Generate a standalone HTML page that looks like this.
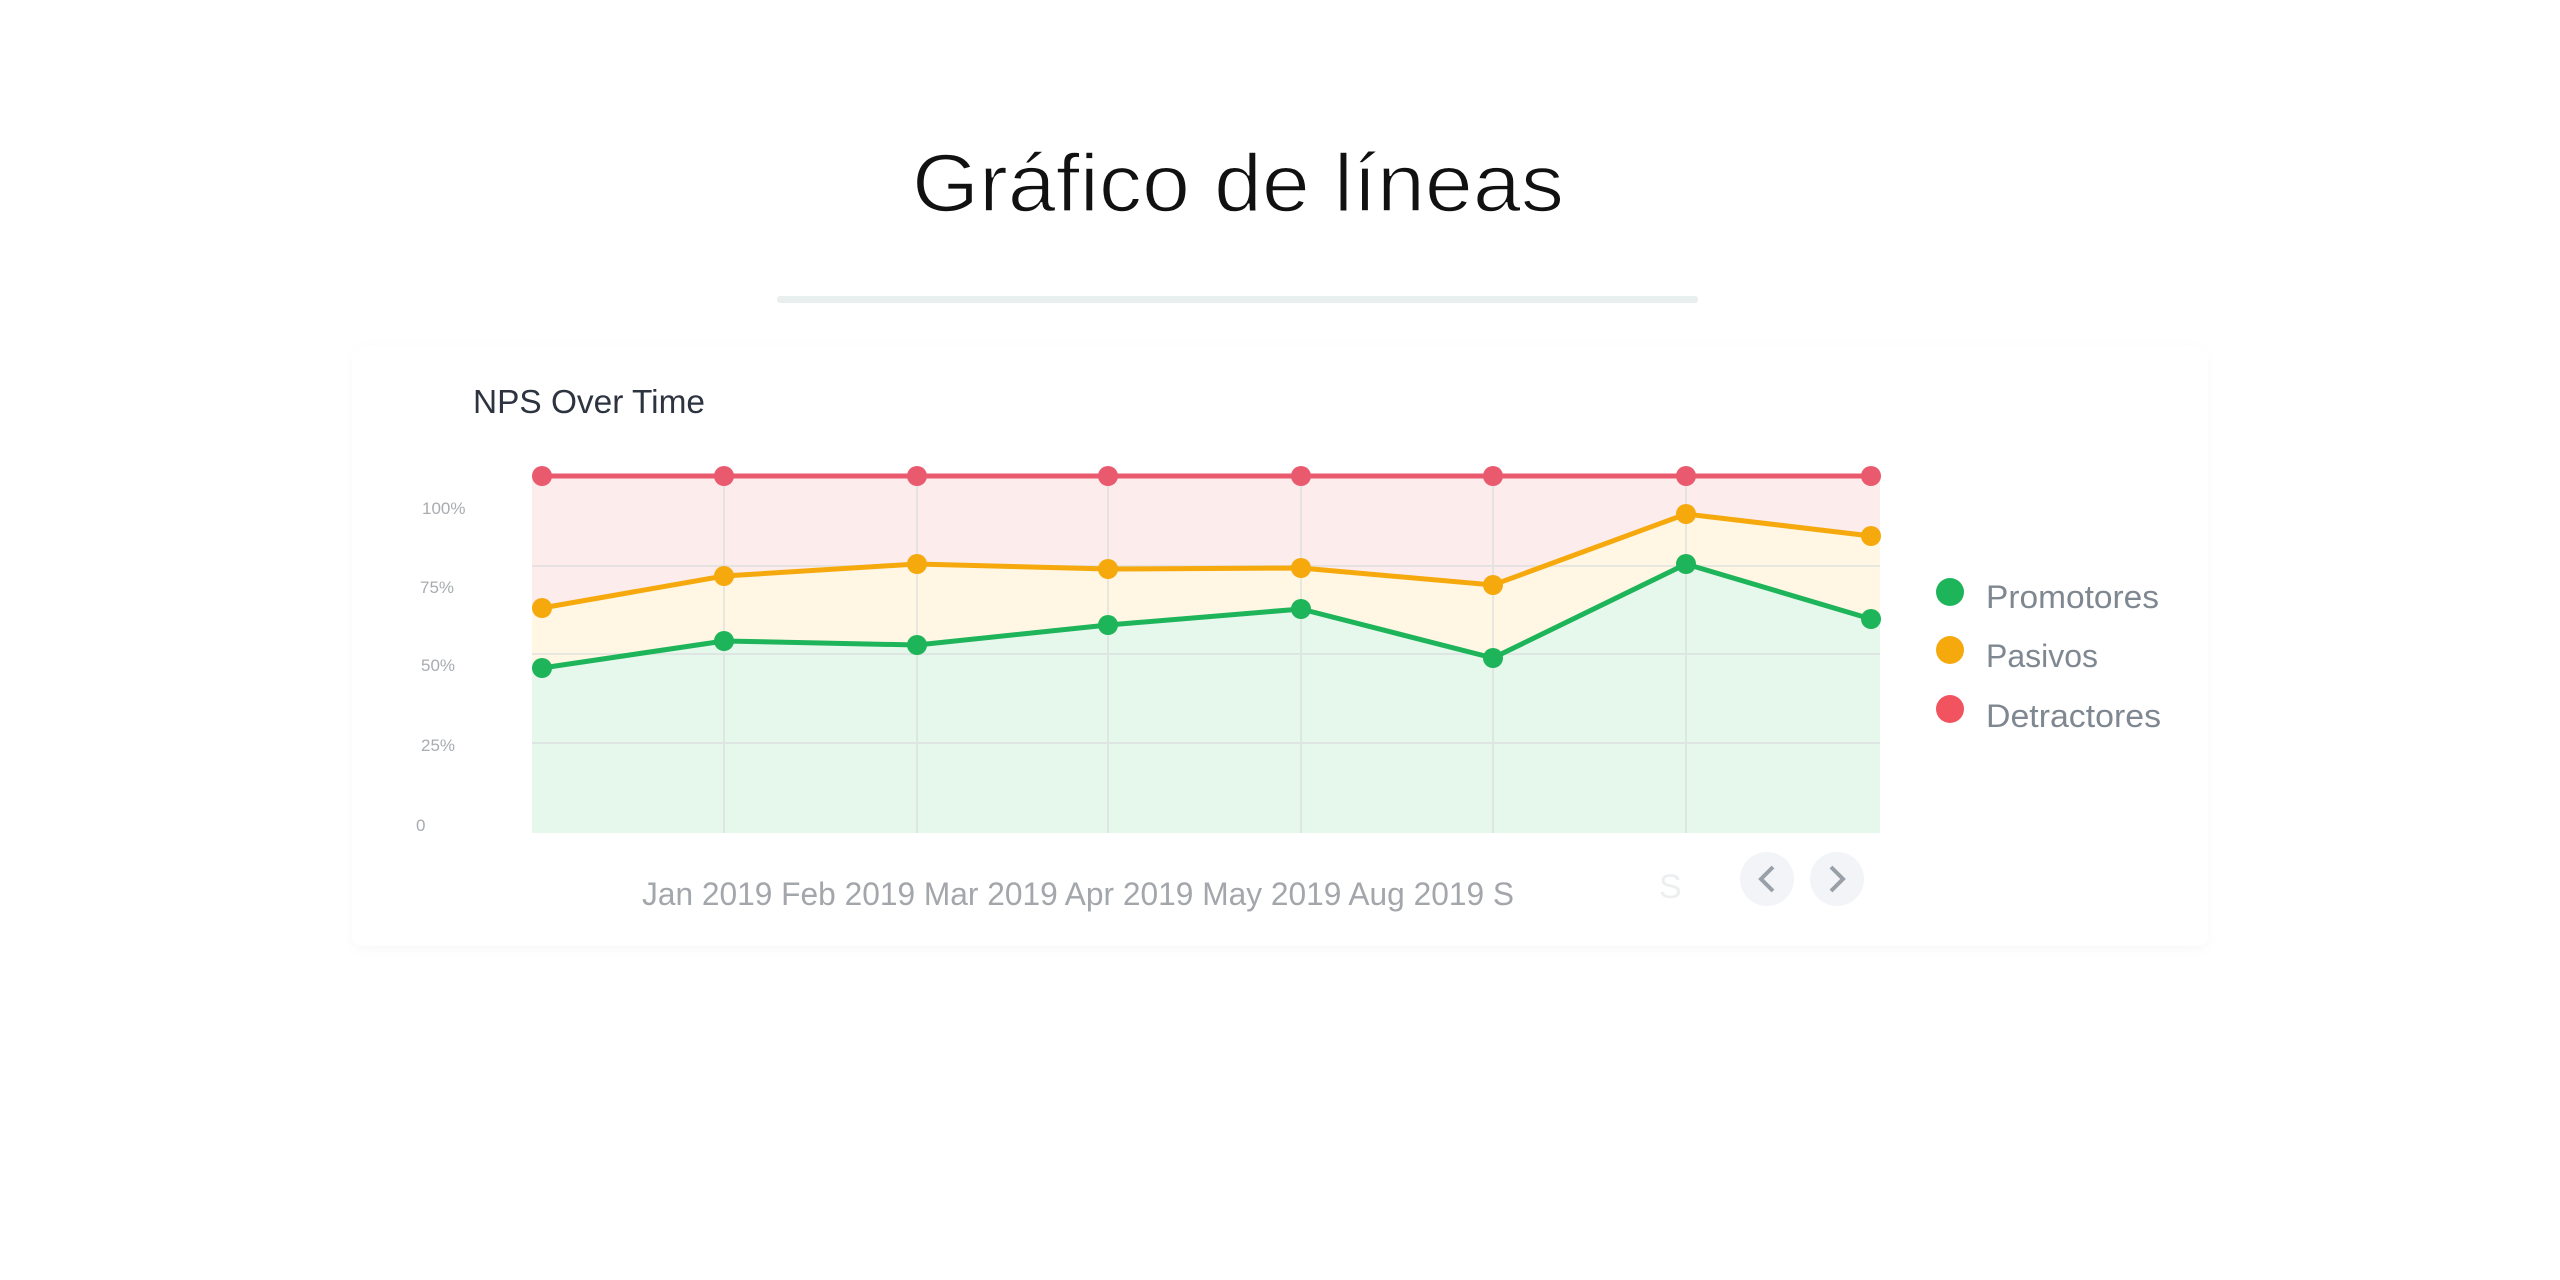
<!DOCTYPE html>
<html><head><meta charset="utf-8"><style>
html,body{margin:0;padding:0;background:#fff;}
svg{display:block;}
</style></head><body>
<svg width="2560" height="1280" viewBox="0 0 2560 1280" xmlns="http://www.w3.org/2000/svg" font-family="Liberation Sans, DejaVu Sans, sans-serif">
<defs>
<filter id="sh" x="-5%" y="-5%" width="110%" height="110%"><feGaussianBlur stdDeviation="6"/></filter>
</defs>
<text x="912" y="211" font-size="82" fill="#111" stroke="#fff" stroke-width="1.6" textLength="652" lengthAdjust="spacingAndGlyphs">Gráfico de líneas</text>
<rect x="777" y="296" width="921" height="7" rx="3" fill="#e9eeee"/>
<rect x="354" y="350" width="1852" height="598" rx="10" fill="#eef0f2" filter="url(#sh)" opacity="0.6"/>
<rect x="352" y="346" width="1856" height="600" rx="10" fill="#fff"/>
<text x="473" y="413" font-size="33" fill="#2d3440" textLength="232" lengthAdjust="spacingAndGlyphs">NPS Over Time</text>
<polygon points="532,476 1880,476 1880,833 532,833" fill="#fdecec"/>
<polygon points="532,608 724,576 917,564 1108,569 1301,568 1493,585 1686,514 1871,536 1880,536 1880,833 532,833" fill="#fff6e4"/>
<polygon points="532,668 542,668 724,641 917,645 1108,625 1301,609 1493,658 1686,564 1871,619 1880,619 1880,833 532,833" fill="#e6f7ec"/>
<g stroke="#d8dcdc" stroke-width="2" opacity="0.6">
<line x1="532" y1="566" x2="1880" y2="566"/><line x1="532" y1="654" x2="1880" y2="654"/><line x1="532" y1="743" x2="1880" y2="743"/>
<line x1="724" y1="476" x2="724" y2="833"/><line x1="917" y1="476" x2="917" y2="833"/><line x1="1108" y1="476" x2="1108" y2="833"/><line x1="1301" y1="476" x2="1301" y2="833"/><line x1="1493" y1="476" x2="1493" y2="833"/><line x1="1686" y1="476" x2="1686" y2="833"/>
</g>
<g font-size="17" fill="#a8acb0">
<text x="422" y="514">100%</text><text x="420" y="593">75%</text><text x="421" y="671">50%</text><text x="421" y="751">25%</text><text x="416" y="831">0</text>
</g>
<polyline points="542,476 724,476 917,476 1108,476 1301,476 1493,476 1686,476 1871,476" fill="none" stroke="#ea5a6e" stroke-width="5"/>
<polyline points="542,608 724,576 917,564 1108,569 1301,568 1493,585 1686,514 1871,536" fill="none" stroke="#f5a90d" stroke-width="5"/>
<polyline points="542,668 724,641 917,645 1108,625 1301,609 1493,658 1686,564 1871,619" fill="none" stroke="#1db45a" stroke-width="5"/>
<g fill="#ea5a6e"><circle cx="542" cy="476" r="10"/><circle cx="724" cy="476" r="10"/><circle cx="917" cy="476" r="10"/><circle cx="1108" cy="476" r="10"/><circle cx="1301" cy="476" r="10"/><circle cx="1493" cy="476" r="10"/><circle cx="1686" cy="476" r="10"/><circle cx="1871" cy="476" r="10"/></g>
<g fill="#f5a90d"><circle cx="542" cy="608" r="10"/><circle cx="724" cy="576" r="10"/><circle cx="917" cy="564" r="10"/><circle cx="1108" cy="569" r="10"/><circle cx="1301" cy="568" r="10"/><circle cx="1493" cy="585" r="10"/><circle cx="1686" cy="514" r="10"/><circle cx="1871" cy="536" r="10"/></g>
<g fill="#1db45a"><circle cx="542" cy="668" r="10"/><circle cx="724" cy="641" r="10"/><circle cx="917" cy="645" r="10"/><circle cx="1108" cy="625" r="10"/><circle cx="1301" cy="609" r="10"/><circle cx="1493" cy="658" r="10"/><circle cx="1686" cy="564" r="10"/><circle cx="1871" cy="619" r="10"/></g>
<text x="642" y="905" font-size="32" fill="#a3a6aa" textLength="872" lengthAdjust="spacingAndGlyphs">Jan 2019 Feb 2019 Mar 2019 Apr 2019 May 2019 Aug 2019 S</text>
<text x="1659" y="898" font-size="34" fill="#eceef0">S</text>
<circle cx="1767" cy="879" r="27" fill="#f2f4f7"/><circle cx="1837" cy="879" r="27" fill="#f2f4f7"/>
<polyline points="1773,867 1761,879 1773,891" fill="none" stroke="#9aa0a8" stroke-width="4"/>
<polyline points="1831,867 1843,879 1831,891" fill="none" stroke="#9aa0a8" stroke-width="4"/>
<circle cx="1950" cy="592" r="14" fill="#1db45a"/><circle cx="1950" cy="650" r="14" fill="#f5a90d"/><circle cx="1950" cy="709" r="14" fill="#f2545f"/>
<g font-size="32" fill="#7f8891">
<text x="1986" y="608" textLength="173" lengthAdjust="spacingAndGlyphs">Promotores</text>
<text x="1986" y="667">Pasivos</text>
<text x="1986" y="727" textLength="175" lengthAdjust="spacingAndGlyphs">Detractores</text>
</g>
</svg>
</body></html>
